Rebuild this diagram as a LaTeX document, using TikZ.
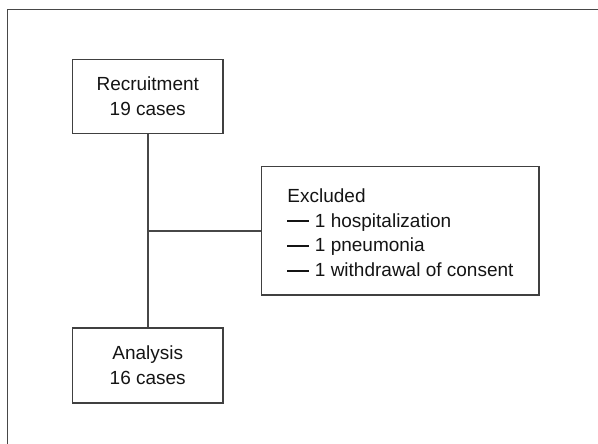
\documentclass[tikz,border=0pt]{standalone}
\usepackage{fontspec}
\setmainfont{Liberation Sans}
\newcommand{\exdash}{\rule[4.8pt]{21.5pt}{2pt}\hspace{6pt}}
\begin{document}
\begin{tikzpicture}[x=1pt,y=1pt,
  boxstyle/.style={draw=black!75, line width=1.5pt, rectangle, inner sep=0pt},
  conn/.style={draw=black!72, line width=1.5pt},
  txt/.style={font=\fontsize{19}{24.6}\selectfont, text=black!92, inner sep=0pt}]
\useasboundingbox (0,0) rectangle (598,-444);
% outer frame (only top and left visible)
\coordinate (fbl) at (7.3,-444);
\coordinate (ftl) at (7.3,-9.7);
\coordinate (ftr) at (598,-9.7);
\draw[draw=black!72, line width=1.5pt] (fbl) -- (ftl) -- (ftr);
% boxes
\node[boxstyle, minimum width=150.5pt, minimum height=74pt] (rec) at (147.75,-96.3) {};
\node[txt, align=center] (rectext) at (rec.center) {Recruitment\\19 cases};
\node[boxstyle, minimum width=150.5pt, minimum height=75pt] (ana) at (147.75,-365.5) {};
\node[txt, align=center] (anatext) at (ana.center) {Analysis\\16 cases};
\node[boxstyle, minimum width=277.5pt, minimum height=128.3pt] (excl) at (400.25,-230.8) {};
\node[txt, align=left, anchor=west] (excltext) at ([xshift=26.5pt,yshift=-2pt]excl.west)
  {Excluded\\\exdash 1 hospitalization\\\exdash 1 pneumonia\\\exdash 1 withdrawal of consent};
% connectors
\draw[conn] (rec.south) -- (ana.north);
\draw[conn] (excl.west) -- (excl.west -| rec.south);
\end{tikzpicture}
\end{document}
